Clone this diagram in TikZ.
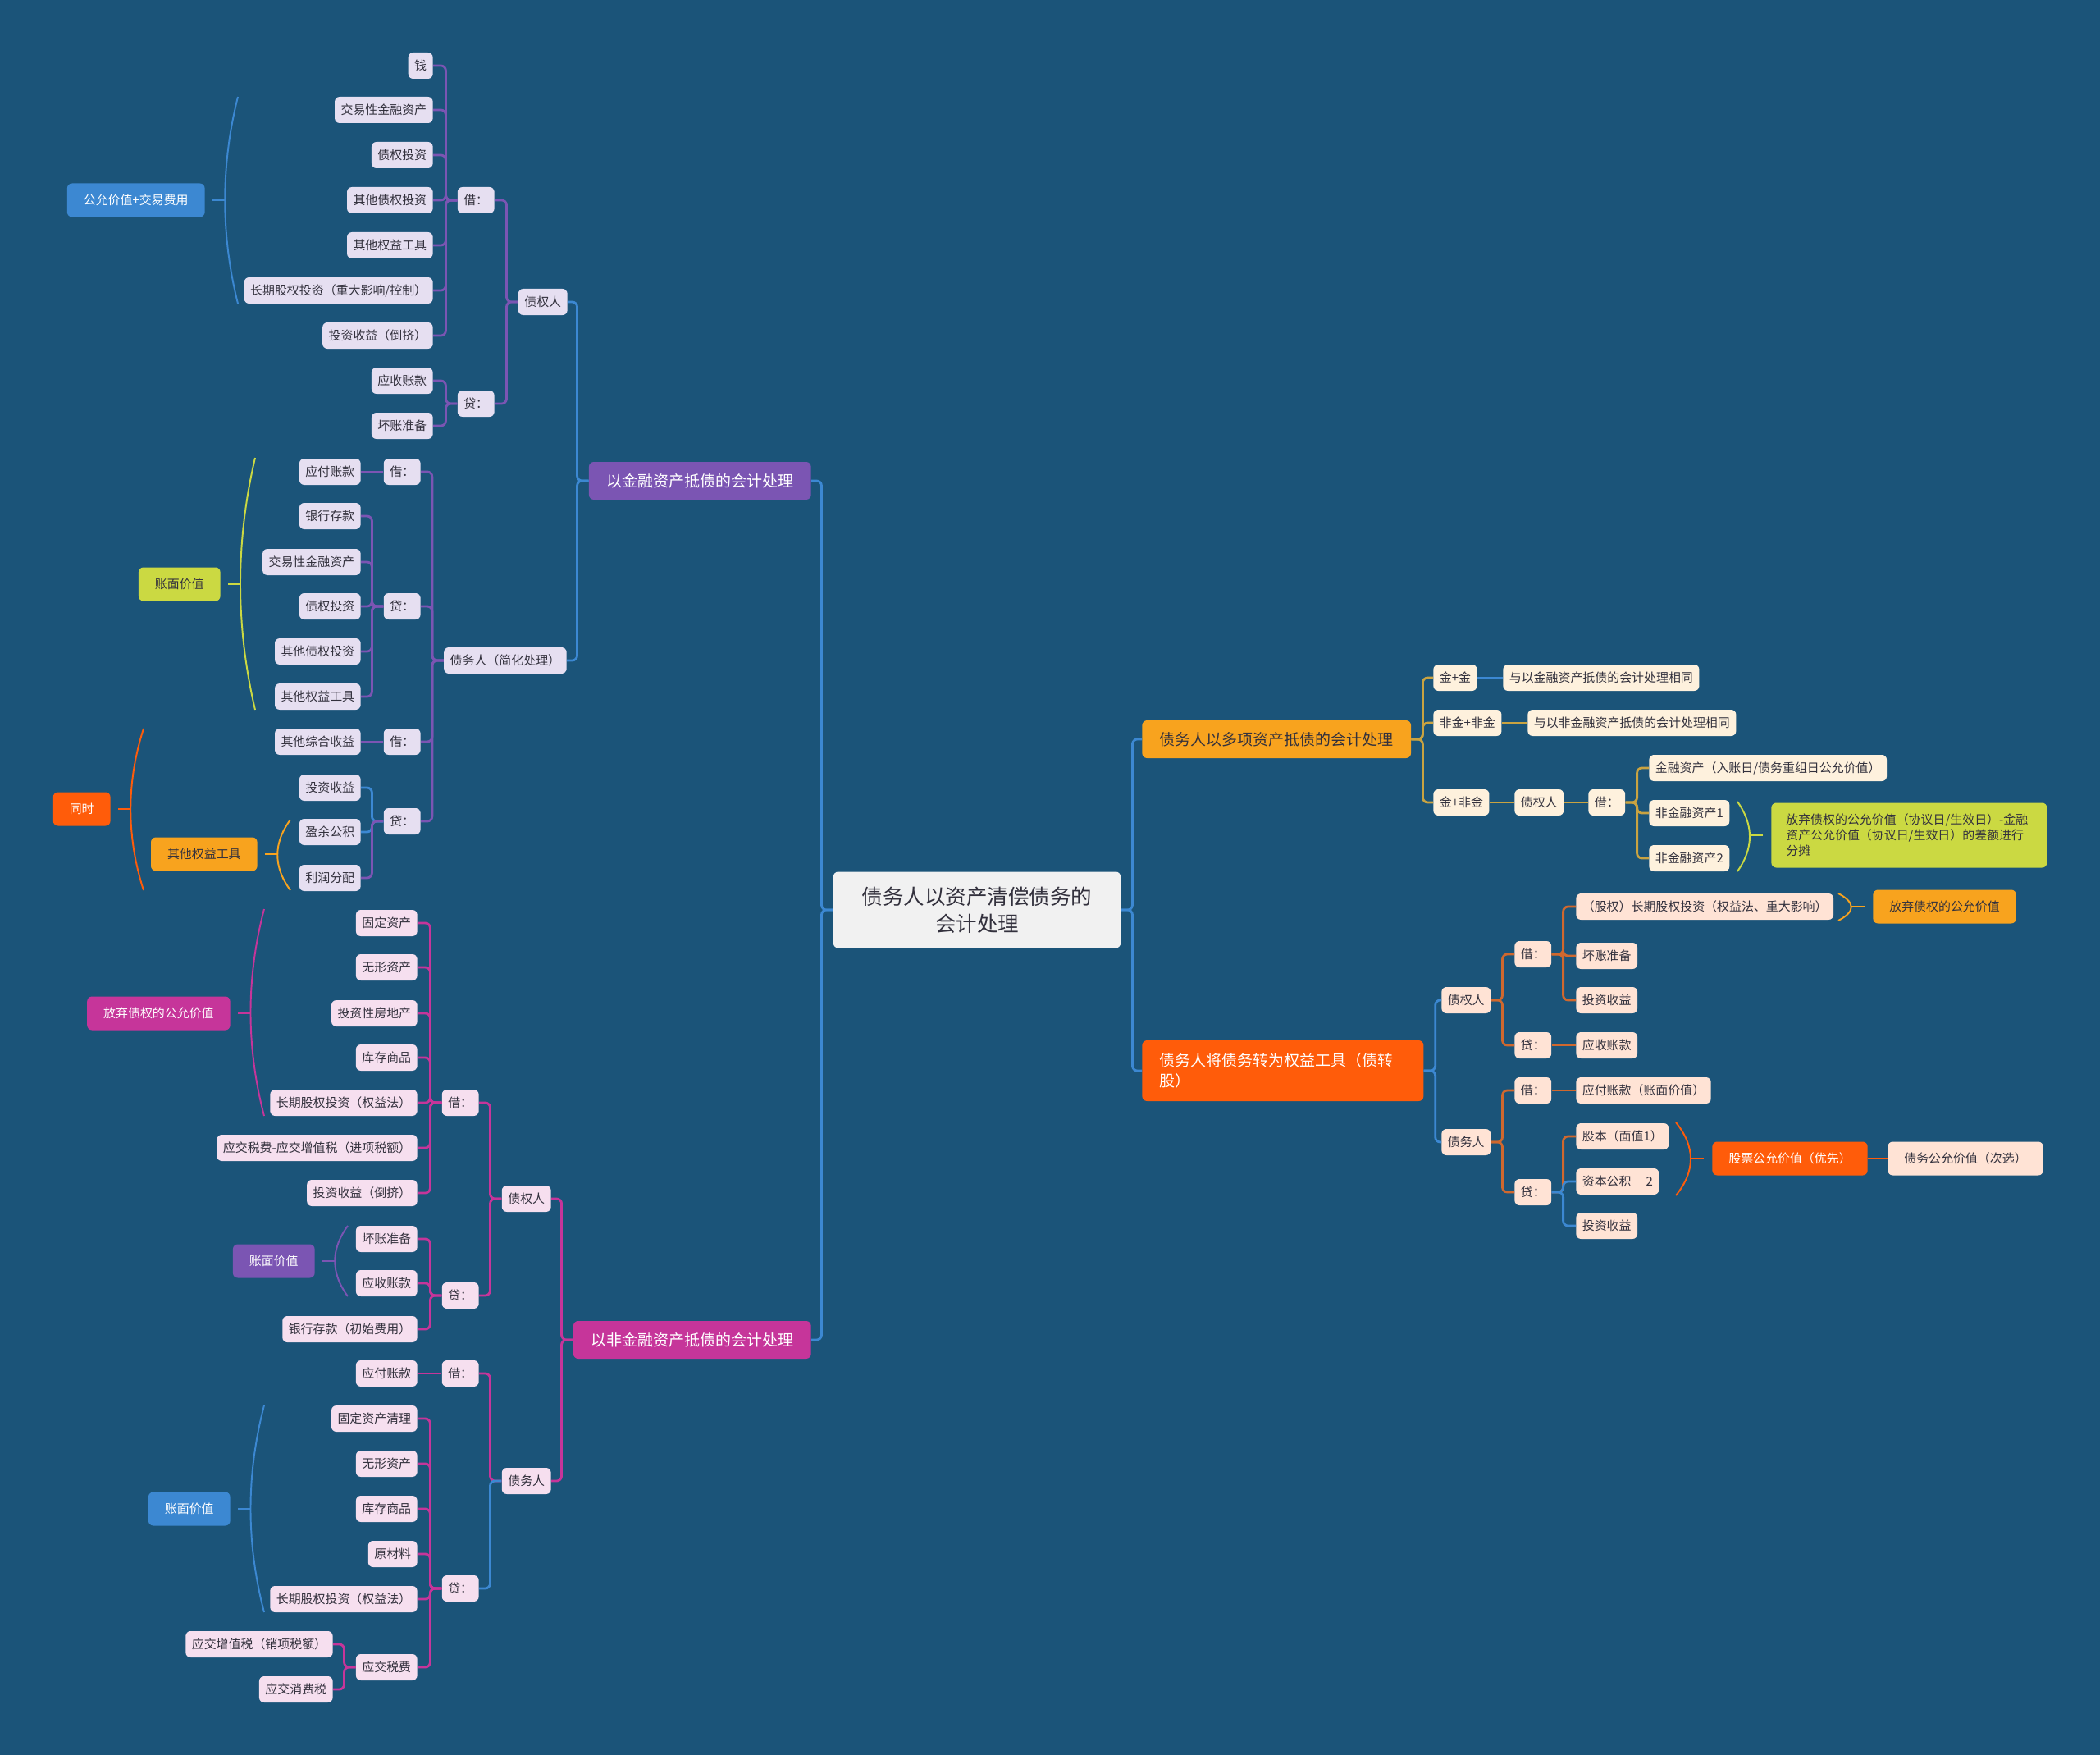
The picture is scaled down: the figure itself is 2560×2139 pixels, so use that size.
\documentclass[tikz,border=0pt]{standalone}
\usepackage{fontspec}
\setmainfont{Noto Sans CJK SC}
\usetikzlibrary{calc}
\definecolor{cBg}  {HTML}{1B5479}
\definecolor{cRoot}{HTML}{F1F1F1}
\definecolor{cBlu} {HTML}{3C88D2}
\definecolor{cPur} {HTML}{7B55B3}
\definecolor{cMag} {HTML}{C6359A}
\definecolor{cOrg} {HTML}{F8A31E}
\definecolor{cRed} {HTML}{FF5C0A}
\definecolor{cLim} {HTML}{CBD942}
\definecolor{cGld} {HTML}{C9A341}
\definecolor{cBrn} {HTML}{D0682E}
\definecolor{cInk} {HTML}{33313D}
\tikzset{
  nbase/.style={rounded corners=1.2mm,align=center,inner ysep=0pt,
                font=\fontsize{8.5}{10.8}\selectfont,text=cInk},
  leaf/.style ={nbase,minimum height=6.4mm,inner xsep=1.5mm},
  lav/.style  ={leaf,fill=cPur!19!white},
  pnk/.style  ={leaf,fill=cMag!16!white},
  crm/.style  ={leaf,fill=cOrg!15!white},
  pch/.style  ={leaf,fill=cRed!17!white},
  grp/.style  ={nbase,minimum height=8.2mm,inner xsep=4mm,fill=#1,text=white},
  lvl/.style  ={nbase,minimum height=9.2mm,inner xsep=4.3mm,fill=#1,text=white,
                font=\fontsize{10.8}{14.2}\selectfont},
  lnk/.style  ={draw=#1,line width=1.6pt,rounded corners=1.2mm},
  bar/.style  ={draw=#1,line width=1.6pt},
  brc/.style  ={draw=#1,line width=1.1pt},
}

\begin{document}
\begin{tikzpicture}[x=0.2mm, y=-0.2mm]

\fill[cBg] (0,0) rectangle (2560,2139);

\node[nbase,fill=cRoot,minimum height=18.6mm,inner xsep=7mm,
      font=\fontsize{14.5}{18.8}\selectfont] (root) at (1191,1109)
  {债务人以资产清偿债务的\\会计处理};

%% left: financial assets
\node[lvl=cPur,anchor=east] (fin) at (989,586) {以金融资产抵债的会计处理};
\node[lav,anchor=east] (fcr)  at (692,368) {债权人};
\node[lav,anchor=east] (fdb)  at (691,805) {债务人（简化处理）};
\node[lav,anchor=east] (fcrJ) at (603,244) {借：};
\node[lav,anchor=east] (fcrD) at (603,492) {贷：};
\node[lav,anchor=east] (fa1) at (528,80)  {钱};
\node[lav,anchor=east] (fa2) at (528,134) {交易性金融资产};
\node[lav,anchor=east] (fa3) at (528,189) {债权投资};
\node[lav,anchor=east] (fa4) at (528,244) {其他债权投资};
\node[lav,anchor=east] (fa5) at (528,299) {其他权益工具};
\node[lav,anchor=east] (fa6) at (528,354) {长期股权投资（重大影响/控制）};
\node[lav,anchor=east] (fa7) at (528,409) {投资收益（倒挤）};
\node[lav,anchor=east] (fb1) at (528,464) {应收账款};
\node[lav,anchor=east] (fb2) at (528,519) {坏账准备};
\node[lav,anchor=east] (fdJ1) at (513,575)  {借：};
\node[lav,anchor=east] (fdD1) at (513,739)  {贷：};
\node[lav,anchor=east] (fdJ2) at (513,904)  {借：};
\node[lav,anchor=east] (fdD2) at (513,1001) {贷：};
\node[lav,anchor=east] (fc1) at (440,575)  {应付账款};
\node[lav,anchor=east] (fd1) at (440,629)  {银行存款};
\node[lav,anchor=east] (fd2) at (440,685)  {交易性金融资产};
\node[lav,anchor=east] (fd3) at (440,739)  {债权投资};
\node[lav,anchor=east] (fd4) at (440,794)  {其他债权投资};
\node[lav,anchor=east] (fd5) at (440,849)  {其他权益工具};
\node[lav,anchor=east] (fe1) at (440,904)  {其他综合收益};
\node[lav,anchor=east] (ff1) at (440,960)  {投资收益};
\node[lav,anchor=east] (ff2) at (440,1014) {盈余公积};
\node[lav,anchor=east] (ff3) at (440,1070) {利润分配};
\node[grp=cBlu,anchor=east] (gA) at (250,244)  {公允价值+交易费用};
\node[grp=cLim,anchor=east,text=cInk] (gB) at (269,712) {账面价值};
\node[grp=cRed,anchor=east] (gC) at (135,986)  {同时};
\node[grp=cOrg,anchor=east,text=cInk] (gD) at (314,1041) {其他权益工具};

%% left: non-financial assets
\node[lvl=cMag,anchor=east] (nfin) at (989,1633) {以非金融资产抵债的会计处理};
\node[pnk,anchor=east] (ncr)  at (672,1461) {债权人};
\node[pnk,anchor=east] (ndb)  at (672,1805) {债务人};
\node[pnk,anchor=east] (ncrJ) at (584,1344) {借：};
\node[pnk,anchor=east] (ncrD) at (584,1579) {贷：};
\node[pnk,anchor=east] (ndbJ) at (584,1674) {借：};
\node[pnk,anchor=east] (ndbD) at (584,1936) {贷：};
\node[pnk,anchor=east] (na1) at (509,1125) {固定资产};
\node[pnk,anchor=east] (na2) at (509,1179) {无形资产};
\node[pnk,anchor=east] (na3) at (509,1235) {投资性房地产};
\node[pnk,anchor=east] (na4) at (509,1289) {库存商品};
\node[pnk,anchor=east] (na5) at (509,1344) {长期股权投资（权益法）};
\node[pnk,anchor=east] (na6) at (509,1399) {应交税费-应交增值税（进项税额）};
\node[pnk,anchor=east] (na7) at (509,1454) {投资收益（倒挤）};
\node[pnk,anchor=east] (nb1) at (509,1510) {坏账准备};
\node[pnk,anchor=east] (nb2) at (509,1564) {应收账款};
\node[pnk,anchor=east] (nb3) at (509,1620) {银行存款（初始费用）};
\node[pnk,anchor=east] (nc1) at (509,1674) {应付账款};
\node[pnk,anchor=east] (nd1) at (509,1729) {固定资产清理};
\node[pnk,anchor=east] (nd2) at (509,1784) {无形资产};
\node[pnk,anchor=east] (nd3) at (509,1839) {库存商品};
\node[pnk,anchor=east] (nd4) at (509,1894) {原材料};
\node[pnk,anchor=east] (nd5) at (509,1949) {长期股权投资（权益法）};
\node[pnk,anchor=east] (nd6) at (509,2032) {应交税费};
\node[pnk,anchor=east] (ne1) at (406,2004) {应交增值税（销项税额）};
\node[pnk,anchor=east] (ne2) at (406,2059) {应交消费税};
\node[grp=cMag,anchor=east] (gE) at (281,1235) {放弃债权的公允价值};
\node[grp=cPur,anchor=east] (gF) at (384,1537) {账面价值};
\node[grp=cBlu,anchor=east] (gG) at (281,1839) {账面价值};

%% right: several assets
\node[lvl=cOrg,anchor=west,text=cInk] (multi) at (1392,901) {债务人以多项资产抵债的会计处理};
\node[crm,anchor=west] (mA1) at (1747,826) {金+金};
\node[crm,anchor=west] (mA2) at (1832,826) {与以金融资产抵债的会计处理相同};
\node[crm,anchor=west] (mB1) at (1747,881) {非金+非金};
\node[crm,anchor=west] (mB2) at (1862,881) {与以非金融资产抵债的会计处理相同};
\node[crm,anchor=west] (mC1) at (1747,978) {金+非金};
\node[crm,anchor=west] (mC2) at (1846,978) {债权人};
\node[crm,anchor=west] (mC3) at (1936,978) {借：};
\node[crm,anchor=west] (mD1) at (2010,936)  {金融资产（入账日/债务重组日公允价值）};
\node[crm,anchor=west] (mD2) at (2010,991)  {非金融资产1};
\node[crm,anchor=west] (mD3) at (2010,1046) {非金融资产2};
\node[grp=cLim,anchor=west,text=cInk,text width=60mm,align=left,
      inner xsep=3.6mm,minimum height=15.8mm] (gH) at (2159,1018)
  {放弃债权的公允价值（协议日/生效日）-金融\\资产公允价值（协议日/生效日）的差额进行\\分摊};

%% right: debt to equity
\node[lvl=cRed,anchor=west,text width=60mm,align=left,minimum height=14.8mm]
  (dte) at (1392,1305) {债务人将债务转为权益工具（债转\\股）};
\node[pch,anchor=west] (dCr)  at (1757,1219) {债权人};
\node[pch,anchor=west] (dDb)  at (1757,1392) {债务人};
\node[pch,anchor=west] (dCrJ) at (1846,1163) {借：};
\node[pch,anchor=west] (dCrD) at (1846,1274) {贷：};
\node[pch,anchor=west] (dDbJ) at (1846,1329) {借：};
\node[pch,anchor=west] (dDbD) at (1846,1453) {贷：};
\node[pch,anchor=west] (dp1) at (1921,1105) {（股权）长期股权投资（权益法、重大影响）};
\node[pch,anchor=west] (dp2) at (1921,1165) {坏账准备};
\node[pch,anchor=west] (dp3) at (1921,1219) {投资收益};
\node[pch,anchor=west] (dq1) at (1921,1274) {应收账款};
\node[pch,anchor=west] (dr1) at (1921,1329) {应付账款（账面价值）};
\node[pch,anchor=west] (ds1) at (1921,1385) {股本（面值1）};
\node[pch,anchor=west] (ds2) at (1921,1440) {资本公积\hspace{1.2em}2};
\node[pch,anchor=west] (ds3) at (1921,1494) {投资收益};
\node[grp=cOrg,anchor=west,text=cInk] (gI) at (2283,1105) {放弃债权的公允价值};
\node[grp=cRed,anchor=west] (gJ) at (2087,1412) {股票公允价值（优先）};
\node[grp=cRed!17!white,anchor=west,text=cInk] (dt1) at (2301,1412) {债务公允价值（次选）};

% links, left side
\foreach \p/\c/\col in {root/fin/cBlu,root/nfin/cBlu,fin/fcr/cBlu,fin/fdb/cBlu,
    fcr/fcrJ/cPur,fcr/fcrD/cPur,fcrJ/fa1/cPur,fcrJ/fa2/cPur,fcrJ/fa3/cPur,
    fcrJ/fa4/cPur,fcrJ/fa5/cPur,fcrJ/fa6/cPur,fcrJ/fa7/cPur,fcrD/fb1/cPur,
    fcrD/fb2/cPur,fdb/fdJ1/cPur,fdb/fdD1/cPur,fdb/fdJ2/cPur,fdb/fdD2/cPur,
    fdD1/fd1/cPur,fdD1/fd2/cPur,fdD1/fd3/cPur,fdD1/fd4/cPur,
    fdD1/fd5/cPur,fdD2/ff1/cBlu,fdD2/ff2/cBlu,fdD2/ff3/cPur,
    nfin/ncr/cMag,nfin/ndb/cMag,ncr/ncrJ/cMag,ncr/ncrD/cMag,ndb/ndbJ/cMag,
    ndb/ndbD/cBlu,ncrJ/na1/cMag,ncrJ/na2/cMag,ncrJ/na3/cMag,ncrJ/na4/cMag,
    ncrJ/na5/cMag,ncrJ/na6/cMag,ncrJ/na7/cMag,ncrD/nb1/cMag,ncrD/nb2/cMag,
    ncrD/nb3/cMag,ndbD/nd1/cMag,ndbD/nd2/cMag,ndbD/nd3/cMag,
    ndbD/nd4/cMag,ndbD/nd5/cMag,ndbD/nd6/cMag,nd6/ne1/cMag,nd6/ne2/cMag}{%
  \draw[lnk=\col] (\c.east) -| ($(\p.west)+(-14,0)$) -- (\p.west);}
\foreach \p/\c/\col in {fdJ1/fc1/cPur,fdJ2/fe1/cPur,ndbJ/nc1/cMag}
  \draw[bar=\col] (\c.east) -- (\p.west);

% links, right side
\foreach \p/\c/\col in {root/multi/cBlu,root/dte/cBlu,multi/mA1/cGld,
    multi/mB1/cGld,multi/mC1/cGld,mC3/mD1/cGld,mC3/mD2/cGld,mC3/mD3/cGld,
    dte/dCr/cBlu,dte/dDb/cBlu,dCr/dCrJ/cBrn,dCr/dCrD/cBrn,dDb/dDbJ/cBrn,
    dDb/dDbD/cBrn,dCrJ/dp1/cBrn,dCrJ/dp2/cBrn,dCrJ/dp3/cBrn,
    dDbD/ds1/cBrn,dDbD/ds2/cBlu,dDbD/ds3/cBlu}{%
  \draw[lnk=\col] (\p.east) -- ++(14,0) |- (\c.west);}
\foreach \p/\c/\col in {mA1/mA2/cBlu,mB1/mB2/cGld,mC1/mC2/cGld,mC2/mC3/cGld,
    dCrD/dq1/cBrn,dDbJ/dr1/cBrn,gJ/dt1/cRed}
  \draw[bar=\col] (\p.east) -- (\c.west);

% group braces
\foreach \xe/\k/\ya/\yb/\col in {290/-21/118/370/cBlu,311/-24/558/865/cLim,
    175/-21/888/1085/cRed,354/-21/999/1085/cOrg,322/-22/1108/1360/cMag,
    424/-21/1494/1580/cPur,322/-22/1713/1965/cBlu,2118/20/977/1062/cLim,
    2241/21/1089/1122/cOrg,2043/24/1368/1457/cRed}{%
  \draw[brc=\col] (\xe,\ya) .. controls ({\xe+\k},{\ya+(\yb-\ya)/3})
    and ({\xe+\k},{\yb-(\yb-\ya)/3}) .. (\xe,\yb);}
\foreach \b/\col in {gA/cBlu,gB/cLim,gC/cRed,gD/cOrg,gE/cMag,gF/cPur,gG/cBlu}
  \draw[brc=\col] (\b.east) ++(9,0) -- ++(15,0);
\foreach \b/\col in {gH/cLim,gI/cOrg,gJ/cRed}
  \draw[brc=\col] (\b.west) ++(-10,0) -- ++(-16,0);
\end{tikzpicture}
\end{document}
